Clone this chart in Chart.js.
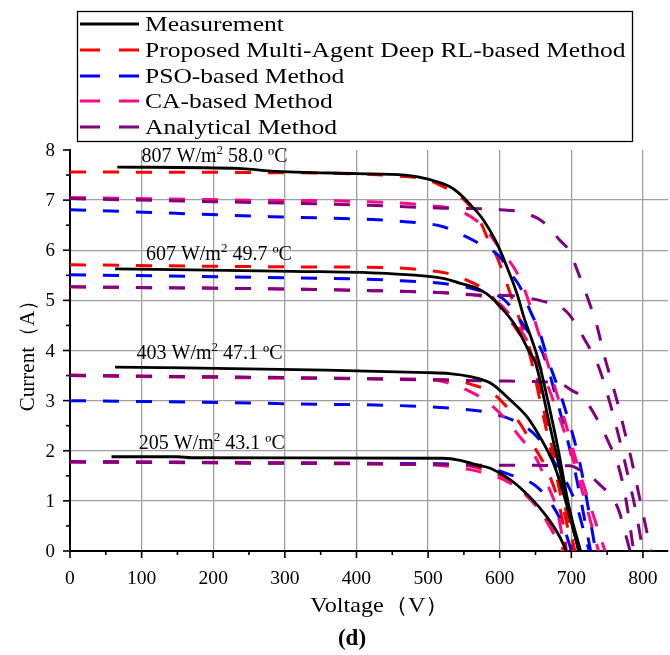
<!DOCTYPE html>
<html>
<head>
<meta charset="utf-8">
<script src="https://cdn.jsdelivr.net/npm/chart.js"></script>
<style>
  html, body { margin: 0; padding: 0; background: #ffffff; }
  canvas { display: block; }
</style>
</head>
<body>
<canvas id="c" width="670" height="655"></canvas>
<script>
// ---------------- DATA (Voltage V, Current A) ----------------
const methods = ['Measurement', 'Proposed Multi-Agent Deep RL-based Method', 'PSO-based Method', 'CA-based Method', 'Analytical Method'];
const conditions = ['807 W/m2 58.0 ºC', '607 W/m2 49.7 ºC', '403 W/m2 47.1 ºC', '205 W/m2 43.1 ºC'];
const xTickLabels = [0, 100, 200, 300, 400, 500, 600, 700, 800];
const yTickLabels = [0, 1, 2, 3, 4, 5, 6, 7, 8];

// 807 W/m2
const meas807 = [[66,7.66],[240,7.63],[280,7.58],[400,7.53],[468,7.50],[500,7.42],[530,7.27],[543,7.14],[559,6.91],[577,6.61],[596,6.14],[610,5.67],[624,5.14],[635,4.61],[645,4.21],[654,3.81],[668,2.95],[680,2.15],[698,0.80],[713,0]];
const red807 = [[0,7.56],[254,7.55],[468,7.47],[500,7.40],[521,7.27],[553,6.97],[574,6.54],[584,6.20],[596,5.87],[606,5.50],[618,5.00],[628,4.61],[645,3.88],[665,2.59],[685,1.29],[705,0]];
const blue807 = [[0,6.81],[280,6.67],[468,6.57],[521,6.47],[553,6.27],[573,6.12],[600,5.87],[615,5.54],[628,5.28],[642,4.81],[656,4.35],[666,3.88],[691,2.85],[712,1.75],[734,0]];
const pink807 = [[0,7.05],[250,7.00],[414,6.97],[494,6.90],[547,6.77],[577,6.47],[605,5.94],[620,5.65],[633,5.28],[650,4.55],[670,3.60],[690,2.65],[710,1.65],[730,0.75],[747,0]];
const purple807 = [[0,7.03],[200,6.97],[414,6.90],[521,6.84],[601,6.81],[633,6.75],[660,6.57],[684,6.20],[698,5.97],[708,5.61],[722,5.08],[736,4.48],[745,3.95],[757,3.35],[766,2.88],[775,2.35],[784,1.82],[794,1.15],[803,0.55],[811,0]];

// 607 W/m2
const meas607 = [[63,5.63],[312,5.58],[451,5.53],[521,5.44],[545,5.34],[565,5.26],[582,5.13],[605,4.81],[624,4.45],[640,4.01],[650,3.75],[670,2.50],[690,1.25],[710,0]];
const red607 = [[0,5.71],[289,5.67],[451,5.65],[498,5.60],[535,5.51],[568,5.31],[582,5.21],[598,4.91],[624,4.41],[640,4.01],[660,2.75],[680,1.45],[702,0]];
const blue607 = [[0,5.51],[266,5.46],[451,5.40],[535,5.31],[568,5.21],[604,5.04],[617,4.84],[638,4.41],[660,3.95],[680,3.00],[705,1.60],[727,0]];
const pink607 = [[0,5.27],[405,5.20],[535,5.14],[568,5.10],[600,4.93],[620,4.60],[640,4.15],[660,3.55],[680,2.80],[700,1.95],[720,0.95],[738,0]];
const purple607 = [[0,5.27],[405,5.20],[535,5.14],[559,5.11],[619,5.09],[661,4.98],[684,4.88],[698,4.70],[719,4.21],[738,3.68],[752,3.05],[766,2.30],[780,1.45],[790,0.80],[800,0]];

// 403 W/m2
const meas403 = [[63,3.67],[358,3.61],[498,3.56],[530,3.54],[559,3.48],[587,3.35],[615,3.01],[638,2.68],[656,2.28],[675,1.75],[689,1.15],[698,0.68],[708,0.16],[712,0]];
const red403 = [[0,3.51],[451,3.43],[517,3.42],[540,3.39],[559,3.33],[587,3.18],[605,2.95],[628,2.55],[642,2.22],[666,1.62],[680,1.08],[689,0.49],[693,0]];
const blue403 = [[0,3.00],[297,2.94],[563,2.81],[587,2.75],[620,2.60],[652,2.28],[675,1.80],[694,1.35],[708,0.88],[717,0.42],[725,0]];
const pink403 = [[0,3.50],[300,3.45],[500,3.42],[521,3.38],[563,3.15],[596,2.81],[628,2.28],[652,1.82],[666,1.35],[680,0.82],[689,0.16],[691,0]];
const purple403 = [[0,3.50],[300,3.46],[517,3.41],[600,3.39],[680,3.36],[700,3.21],[717,3.05],[733,2.71],[751,2.20],[766,1.68],[776,1.05],[787,0]];

// 205 W/m2
const meas205 = [[58,1.88],[150,1.88],[170,1.86],[520,1.85],[545,1.81],[565,1.73],[587,1.65],[615,1.42],[642,1.08],[666,0.68],[684,0.28],[693,0]];
const red205 = [[0,1.78],[500,1.73],[545,1.72],[575,1.64],[605,1.48],[635,1.15],[656,0.82],[670,0.49],[684,0.16],[690,0]];
const blue205 = [[0,1.78],[500,1.74],[559,1.72],[615,1.52],[652,1.28],[675,0.88],[689,0.49],[698,0.10],[700,0]];
const pink205 = [[0,1.78],[500,1.72],[540,1.67],[575,1.57],[615,1.35],[652,0.88],[670,0.49],[684,0.10],[687,0]];
const purple205 = [[0,1.78],[500,1.73],[600,1.71],[698,1.70],[712,1.62],[722,1.55],[740,1.32],[754,1.12],[766,0.82],[779,0.16],[782,0]];

// ---------------- STYLE ----------------
const colors = ['#000000', '#ff0000', '#0000ff', '#ff0a80', '#800080'];
const drawOrder = [0, 4, 3, 2, 1];   // lower = on top
const seriesByMethod = [
  [meas807, meas607, meas403, meas205],
  [red807, red607, red403, red205],
  [blue807, blue607, blue403, blue205],
  [pink807, pink607, pink403, pink205],
  [purple807, purple607, purple403, purple205]
];
// label anchor (data coordinates) for the condition texts
const labelAnchors = [[100, 7.77], [106, 5.8], [93, 3.84], [96, 2.04]];

const datasets = [];
seriesByMethod.forEach((list, m) => {
  list.forEach((pts, k) => {
    datasets.push({
      label: methods[m] + ' ' + conditions[k],
      data: pts.map(p => ({ x: p[0], y: p[1] })),
      borderColor: colors[m],
      borderWidth: m === 0 ? 2.8 : 3,
      borderDash: m === 0 ? [] : [16, 17],
      pointRadius: 0,
      fill: false,
      cubicInterpolationMode: 'monotone',
      order: drawOrder[m]
    });
  });
});

const SERIF = '"Liberation Serif", "Times New Roman", serif';

function stretchText(ctx, text, x, y, sx, align) {
  ctx.save();
  ctx.translate(x, y);
  ctx.scale(sx, 1);
  ctx.textAlign = align || 'left';
  ctx.fillText(text, 0, 0);
  ctx.restore();
}

const decor = {
  id: 'decor',
  afterDraw(chart) {
    const ctx = chart.ctx;
    const xs = chart.scales.x, ys = chart.scales.y, ca = chart.chartArea;
    ctx.save();
    ctx.strokeStyle = '#000';
    ctx.fillStyle = '#000';
    ctx.lineWidth = 1.6;
    // x ticks (major every 100, minor every 50)
    for (let v = 0; v <= 800; v += 50) {
      const px = xs.getPixelForValue(v);
      const len = v % 100 === 0 ? 7 : 4;
      ctx.beginPath(); ctx.moveTo(px, ca.bottom); ctx.lineTo(px, ca.bottom + len); ctx.stroke();
    }
    for (let v = 0; v <= 8; v += 0.5) {
      const py = ys.getPixelForValue(v);
      const len = Number.isInteger(v) ? 7 : 4;
      ctx.beginPath(); ctx.moveTo(ca.left, py); ctx.lineTo(ca.left - len, py); ctx.stroke();
    }
    // tick labels
    ctx.font = '19px ' + SERIF;
    ctx.textBaseline = 'alphabetic';
    xTickLabels.forEach(v => {
      stretchText(ctx, String(v), xs.getPixelForValue(v), ca.bottom + 33, 1.03, 'center');
    });
    ctx.font = '18px ' + SERIF;
    yTickLabels.forEach(v => {
      stretchText(ctx, String(v), ca.left - 15, ys.getPixelForValue(v) + 6, 1.05, 'right');
    });
    // axis titles
    ctx.font = '22px ' + SERIF;
    stretchText(ctx, 'Voltage（V）', (ca.left + ca.right) / 2 + 11, 612, 1.1, 'center');
    ctx.save();
    ctx.translate(28, (ca.top + ca.bottom) / 2);
    ctx.rotate(-Math.PI / 2);
    ctx.textAlign = 'center';
    ctx.textBaseline = 'middle';
    ctx.font = '21px ' + SERIF;
    ctx.fillText('Current（A）', 0, 0);
    ctx.restore();
    // (d)
    ctx.font = 'bold 23px ' + SERIF;
    ctx.textBaseline = 'alphabetic';
    stretchText(ctx, '(d)', 352, 645, 1.0, 'center');

    // condition labels with superscript
    conditions.forEach((c, k) => {
      const parts = c.split('W/m2');
      const x0 = xs.getPixelForValue(labelAnchors[k][0]);
      const y0 = ys.getPixelForValue(labelAnchors[k][1]);
      ctx.font = '20px ' + SERIF;
      const p1 = parts[0] + 'W/m';
      let x = x0;
      ctx.textAlign = 'left';
      ctx.fillText(p1, x, y0);
      x += ctx.measureText(p1).width;
      ctx.font = '13px ' + SERIF;
      ctx.fillText('2', x, y0 - 8);
      x += ctx.measureText('2').width;
      ctx.font = '20px ' + SERIF;
      ctx.fillText(parts[1], x, y0);
    });

    // legend box
    ctx.lineWidth = 1.3;
    ctx.strokeRect(77.5, 11.5, 555, 130);
    const rowY = [24, 50, 76, 101, 127];
    ctx.font = '22px ' + SERIF;
    ctx.textBaseline = 'middle';
    methods.forEach((m, i) => {
      ctx.save();
      ctx.strokeStyle = colors[i];
      ctx.lineWidth = 3;
      ctx.setLineDash(i === 0 ? [] : [20, 19]);
      ctx.beginPath(); ctx.moveTo(80, rowY[i]); ctx.lineTo(139, rowY[i]); ctx.stroke();
      ctx.restore();
      stretchText(ctx, m, 145, rowY[i] + 1, 1.16, 'left');
    });
    ctx.restore();
  }
};

new Chart(document.getElementById('c'), {
  type: 'line',
  data: { datasets },
  options: {
    responsive: false,
    animation: false,
    layout: { padding: { top: 150, right: 2, left: 0, bottom: 0 } },
    plugins: { legend: { display: false }, tooltip: { enabled: false } },
    scales: {
      x: {
        type: 'linear', min: 0, max: 835,
        ticks: { stepSize: 100, display: false, includeBounds: false },
        grid: {
          drawTicks: false,
          color: ctx => (ctx.tick && ctx.tick.value === 0) ? 'rgba(0,0,0,0)' : '#a0a0a0',
          lineWidth: 1.3
        },
        border: { display: true, color: '#000', width: 2 },
        afterFit: s => { s.height = 104; }
      },
      y: {
        type: 'linear', min: 0, max: 8,
        ticks: { stepSize: 1, display: false, includeBounds: false },
        grid: {
          drawTicks: false,
          color: ctx => (ctx.tick && (ctx.tick.value === 0 || ctx.tick.value === 8)) ? 'rgba(0,0,0,0)' : '#a0a0a0',
          lineWidth: 1.3
        },
        border: { display: true, color: '#000', width: 2 },
        afterFit: s => { s.width = 70; }
      }
    }
  },
  plugins: [decor]
});
</script>
</body>
</html>
